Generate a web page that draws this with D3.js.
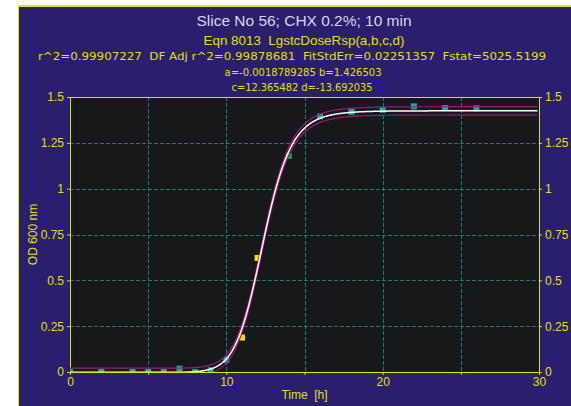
<!DOCTYPE html>
<html lang="en">
<head>
    <meta charset="UTF-8">
    <title>Slice No 56 - LgstcDoseRsp fit</title>
    <script src="https://d3js.org/d3.v7.min.js"></script>
    <style>
        body { margin: 0; background: #fff; }
        text { font-family: "Liberation Sans", Arial, sans-serif; white-space: pre; }
    </style>
</head>
<body>
<div id="chart"></div>

<script>
    // measured points (time h, OD 600)
    var times = [0, 2, 4, 5, 6, 7, 8, 9, 10, 11, 12, 14, 16, 18, 20, 22, 24, 26];
    var od = [0, 0, 0, 0, 0, 0.018, 0, 0.01, 0.065, 0.188, 0.622, 1.178, 1.394, 1.419, 1.430, 1.449, 1.440, 1.438];
    // point colour group (0 = teal, 1 = yellow, 2 = green)
    var pointGroup = [0, 0, 0, 0, 0, 0, 0, 0, 0, 1, 1, 2, 0, 0, 0, 0, 0, 0];

    // fit parameters as printed in the header
    var fitParams = {a: -0.0018789285, b: 1.426503, c: 12.365482, d: -13.692035};
    var fitStdErr = 0.02251357;

    var xTicks = [0, 5, 10, 15, 20, 25, 30];
    var xLabels = [0, 10, 20, 30];
    var yTicks = [0, 0.25, 0.5, 0.75, 1, 1.25, 1.5];

    var titleLines = [
        "Slice No 56; CHX 0.2%; 10 min",
        "Eqn 8013  LgstcDoseRsp(a,b,c,d)",
        "r^2=0.99907227  DF Adj r^2=0.99878681  FitStdErr=0.02251357  Fstat=5025.5199",
        "a=-0.0018789285 b=1.426503",
        "c=12.365482 d=-13.692035"
    ];

    var W = 571, H = 406;
    var plot = {left: 70, right: 539, top: 97, bottom: 372};
    var yellow = "#e6e000", navy = "#2a1e6e", teal = "#1aa8a8";
    var groupColours = [teal, "#f0e000", "#14a050"];

    var svg = d3.select("#chart").append("svg")
        .attr("width", W).attr("height", H);

    // window frame
    svg.append("rect").attr("x", 18).attr("y", 5).attr("width", W - 18).attr("height", H - 5)
        .attr("fill", navy);
    svg.append("line").attr("x1", 18.5).attr("x2", 18.5).attr("y1", 5).attr("y2", H)
        .attr("stroke", yellow).attr("stroke-width", 1);
    svg.append("line").attr("x1", 18).attr("x2", W).attr("y1", 6).attr("y2", 6)
        .attr("stroke", yellow).attr("stroke-width", 2);

    var x = d3.scaleLinear().domain([0, 30]).range([plot.left, plot.right]);
    var y = d3.scaleLinear().domain([0, 1.5]).range([plot.bottom, plot.top]);

    // plot background
    svg.append("rect")
        .attr("x", plot.left).attr("y", plot.top)
        .attr("width", plot.right - plot.left).attr("height", plot.bottom - plot.top)
        .attr("fill", "#161819");

    svg.append("clipPath").attr("id", "clip")
        .append("rect")
        .attr("x", plot.left).attr("y", plot.top)
        .attr("width", plot.right - plot.left).attr("height", plot.bottom - plot.top);

    // grid
    var grid = svg.append("g").attr("stroke", "#128080").attr("stroke-dasharray", "4,2");
    grid.selectAll(".gx").data(xTicks.slice(1, -1)).enter().append("line")
        .attr("x1", function(d) { return Math.round(x(d)) + 0.5; })
        .attr("x2", function(d) { return Math.round(x(d)) + 0.5; })
        .attr("y1", plot.top).attr("y2", plot.bottom);
    grid.selectAll(".gy").data(yTicks.slice(1, -1)).enter().append("line")
        .attr("y1", function(d) { return Math.round(y(d)) + 0.5; })
        .attr("y2", function(d) { return Math.round(y(d)) + 0.5; })
        .attr("x1", plot.left).attr("x2", plot.right);

    // axes
    function styleAxis(g) {
        g.select(".domain").remove();
        g.selectAll("line").attr("stroke", yellow);
        g.selectAll("text").attr("fill", yellow).attr("font-size", 12)
            .style("font-family", "'Liberation Sans', Arial, sans-serif");
    }
    svg.append("g").attr("transform", "translate(" + plot.left + ",0)")
        .call(d3.axisLeft(y).tickValues(yTicks).tickSize(3).tickPadding(3).tickFormat(function(d) { return d; }))
        .call(styleAxis);
    svg.append("g").attr("transform", "translate(" + plot.right + ",0)")
        .call(d3.axisRight(y).tickValues(yTicks).tickSize(3).tickPadding(3).tickFormat(function(d) { return d; }))
        .call(styleAxis);
    svg.append("g").attr("transform", "translate(0," + plot.bottom + ")")
        .call(d3.axisBottom(x).tickValues(xTicks).tickSize(3).tickPadding(2)
            .tickFormat(function(d) { return xLabels.indexOf(d) >= 0 ? d : ""; }))
        .call(styleAxis);

    // plot frame
    svg.append("rect")
        .attr("x", plot.left + 0.5).attr("y", plot.top + 0.5)
        .attr("width", plot.right - plot.left).attr("height", plot.bottom - plot.top)
        .attr("fill", "none").attr("stroke", yellow);

    // data points
    svg.append("g").attr("clip-path", "url(#clip)")
        .selectAll("rect").data(times).enter().append("rect")
        .attr("x", function(d) { return x(d) - 3; })
        .attr("y", function(d, i) { return y(od[i]) - 3; })
        .attr("width", 6).attr("height", 6)
        .attr("fill", function(d, i) { return groupColours[pointGroup[i]]; });

    // fitted curve y = a + b / (1 + (x/c)^d) with +/- FitStdErr bands
    function fit(t) {
        if (t <= 0) return fitParams.a;
        return fitParams.a + fitParams.b / (1 + Math.pow(t / fitParams.c, fitParams.d));
    }
    var curveT = d3.range(0, 29.95, 0.05);
    var fitLine = function(off) {
        return d3.line().x(function(t) { return x(t); }).y(function(t) { return y(fit(t) + off); });
    };
    var curves = svg.append("g").attr("clip-path", "url(#clip)").attr("fill", "none");
    curves.append("path").datum(curveT).attr("d", fitLine(fitStdErr))
        .attr("stroke", "#a01878").attr("stroke-width", 1.2);
    curves.append("path").datum(curveT).attr("d", fitLine(-fitStdErr))
        .attr("stroke", "#a01878").attr("stroke-width", 1.2);
    curves.append("path").datum(curveT).attr("d", fitLine(0))
        .attr("stroke", "#ffffff").attr("stroke-width", 1.5);

    // header text (widths matched to the original rendering)
    var header = [
        {y: 26, size: 15, fill: "#d8d8e4", x: 304, w: 215, font: "'Liberation Sans', Arial, sans-serif"},
        {y: 45, size: 13, fill: yellow, x: 304, w: 201, font: "'Liberation Sans', Arial, sans-serif"},
        {y: 60, size: 11, fill: yellow, x: 292, w: 508, font: "'DejaVu Sans', sans-serif"},
        {y: 76, size: 11, fill: yellow, x: 303, w: 157, font: "'DejaVu Sans', sans-serif"},
        {y: 91, size: 11, fill: yellow, x: 302, w: 141, font: "'DejaVu Sans', sans-serif"}
    ];
    svg.selectAll(".title").data(titleLines).enter().append("text")
        .attr("x", function(d, i) { return header[i].x; })
        .attr("y", function(d, i) { return header[i].y; })
        .attr("text-anchor", "middle")
        .attr("font-size", function(d, i) { return header[i].size; })
        .style("font-family", function(d, i) { return header[i].font; })
        .attr("fill", function(d, i) { return header[i].fill; })
        .attr("textLength", function(d, i) { return header[i].w; })
        .attr("lengthAdjust", "spacingAndGlyphs")
        .text(function(d) { return d; });

    // axis titles
    svg.append("text")
        .attr("transform", "translate(37," + ((plot.top + plot.bottom) / 2) + ") rotate(-90)")
        .attr("text-anchor", "middle").attr("font-size", 12).attr("fill", yellow)
        .text("OD 600 nm");
    svg.append("text")
        .attr("x", (plot.left + plot.right) / 2).attr("y", 399)
        .attr("text-anchor", "middle").attr("font-size", 12).attr("fill", yellow)
        .text("Time  [h]");
</script>
</body>
</html>
